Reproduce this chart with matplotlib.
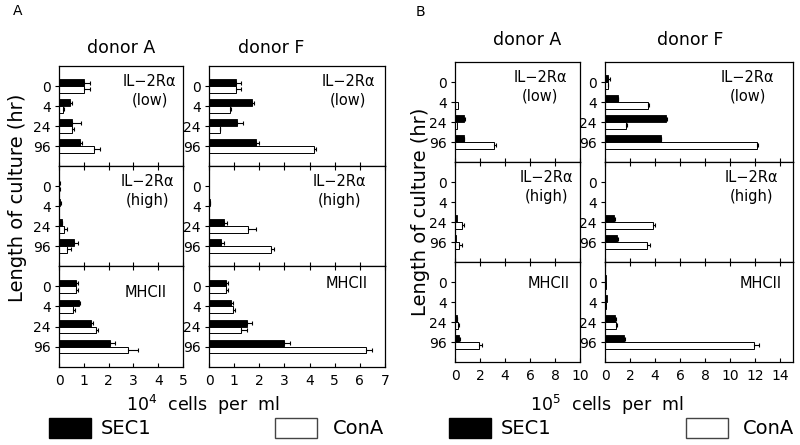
import numpy as np
import matplotlib
matplotlib.use("Agg")
import matplotlib.pyplot as plt
from matplotlib.patches import Rectangle

plt.rcParams['font.family'] = ['DejaVu Sans']

# ---------------- data ----------------
times = ['0', '4', '24', '96']
markers = ['IL\u22122R\u03b1\n(low)', 'IL\u22122R\u03b1\n(high)', 'MHCII']
series_names = ['SEC1', 'ConA']

# Panel A (10^4 cells per ml); rows: low, high, MHCII; columns: 0, 4, 24, 96 h
A_donorA_sec1 = [[1.00, 0.43, 0.54, 0.86], [0.02, 0.05, 0.11, 0.60], [0.70, 0.79, 1.30, 2.07]]
A_donorA_sec1_err = [[0.26, 0.11, 0.33, 0.07], [0.04, 0.02, 0.03, 0.18], [0.08, 0.04, 0.08, 0.17]]
A_donorA_cona = [[1.00, 0.16, 0.52, 1.41], [0.02, 0.01, 0.20, 0.34], [0.70, 0.56, 1.50, 2.78]]
A_donorA_cona_err = [[0.26, 0.03, 0.08, 0.23], [0.03, 0.00, 0.11, 0.16], [0.08, 0.08, 0.09, 0.40]]

A_donorF_sec1 = [[1.06, 1.72, 1.11, 1.87], [0.00, 0.02, 0.61, 0.46], [0.66, 0.89, 1.50, 2.98]]
A_donorF_sec1_err = [[0.23, 0.07, 0.26, 0.13], [0.00, 0.01, 0.11, 0.14], [0.08, 0.08, 0.22, 0.24]]
A_donorF_cona = [[1.06, 0.85, 0.42, 4.16], [0.00, 0.01, 1.57, 2.45], [0.66, 0.94, 1.29, 6.23]]
A_donorF_cona_err = [[0.23, 0.04, 0.03, 0.11], [0.00, 0.00, 0.31, 0.13], [0.08, 0.11, 0.24, 0.27]]

# Panel B (10^5 cells per ml)
B_donorA_sec1 = [[0.00, 0.00, 0.75, 0.72], [0.00, 0.00, 0.13, 0.08], [0.00, 0.03, 0.13, 0.32]]
B_donorA_sec1_err = [[0.00, 0.00, 0.03, 0.03], [0.00, 0.00, 0.00, 0.00], [0.00, 0.00, 0.03, 0.05]]
B_donorA_cona = [[0.02, 0.27, 0.19, 3.10], [0.00, 0.00, 0.59, 0.35], [0.00, 0.00, 0.21, 1.95]]
B_donorA_cona_err = [[0.00, 0.00, 0.00, 0.15], [0.00, 0.00, 0.11, 0.18], [0.00, 0.00, 0.10, 0.21]]

B_donorF_sec1 = [[0.27, 1.00, 4.83, 4.43], [0.00, 0.00, 0.69, 0.98], [0.05, 0.19, 0.80, 1.50]]
B_donorF_sec1_err = [[0.10, 0.05, 0.10, 0.05], [0.00, 0.00, 0.11, 0.05], [0.00, 0.00, 0.07, 0.12]]
B_donorF_cona = [[0.20, 3.45, 1.64, 12.10], [0.00, 0.00, 3.82, 3.32], [0.05, 0.10, 0.87, 11.90]]
B_donorF_cona_err = [[0.05, 0.07, 0.08, 0.12], [0.00, 0.00, 0.16, 0.31], [0.00, 0.00, 0.08, 0.40]]

# ---------------- layout ----------------
W, H = 800, 445
fig = plt.figure(figsize=(W / 100, H / 100), dpi=100)


def rect(x0, x1, y0, y1):
    return [x0 / W, 1 - y1 / H, (x1 - x0) / W, (y1 - y0) / H]


panels = [
    dict(data=(A_donorA_sec1, A_donorA_sec1_err, A_donorA_cona, A_donorA_cona_err),
         x=(59, 183), rows=(66, 166, 266, 367), xmax=5, ticks=np.arange(0, 6, 1),
         ann=[(0.73, 0.75), (0.71, 0.75), (0.70, 0.74)]),
    dict(data=(A_donorF_sec1, A_donorF_sec1_err, A_donorF_cona, A_donorF_cona_err),
         x=(209, 385), rows=(66, 166, 266, 367), xmax=7, ticks=np.arange(0, 8, 1),
         ann=[(0.79, 0.75), (0.74, 0.75), (0.78, 0.83)]),
    dict(data=(B_donorA_sec1, B_donorA_sec1_err, B_donorA_cona, B_donorA_cona_err),
         x=(455, 580), rows=(62, 162, 262, 362), xmax=10, ticks=np.arange(0, 11, 2),
         ann=[(0.68, 0.75), (0.73, 0.75), (0.75, 0.79)]),
    dict(data=(B_donorF_sec1, B_donorF_sec1_err, B_donorF_cona, B_donorF_cona_err),
         x=(605, 793), rows=(62, 162, 262, 362), xmax=15, ticks=np.arange(0, 15, 2),
         ann=[(0.76, 0.75), (0.78, 0.75), (0.83, 0.79)]),
]

h = 0.33
ypos = np.arange(1, len(times) + 1)

for p in panels:
    sec1, sec1_err, cona, cona_err = p['data']
    for r in range(3):
        ax = fig.add_axes(rect(p['x'][0], p['x'][1], p['rows'][r], p['rows'][r + 1]))
        s = np.array(sec1[r]); se = np.array(sec1_err[r])
        c = np.array(cona[r]); ce = np.array(cona_err[r])
        ax.barh(ypos - h / 2, s, height=h, color='black', edgecolor='black', linewidth=0.6, zorder=2)
        ax.barh(ypos + h / 2, c, height=h, color='white', edgecolor='black', linewidth=0.7, zorder=2)
        for yy, v, e in zip(ypos - h / 2, s, se):
            if e > 0:
                ax.errorbar(v, yy, xerr=[[0], [e]], fmt='none', ecolor='black',
                            elinewidth=0.8, capsize=1.6, capthick=0.8, zorder=3)
        for yy, v, e in zip(ypos + h / 2, c, ce):
            if e > 0:
                ax.errorbar(v, yy, xerr=[[0], [e]], fmt='none', ecolor='black',
                            elinewidth=0.8, capsize=1.6, capthick=0.8, zorder=3)
        ax.set_xlim(0, p['xmax'])
        ax.set_ylim(5, 0)
        ax.set_yticks(ypos)
        ax.set_yticklabels(times, fontsize=10)
        ax.tick_params(axis='y', direction='out', length=3, width=0.8, pad=3)
        ax.set_xticks(p['ticks'])
        if r == 2:
            ax.tick_params(axis='x', direction='in', length=3, width=0.8, top=True, pad=5, labelsize=10)
            ax.set_xticklabels([str(t) for t in p['ticks']])
        else:
            ax.tick_params(axis='x', direction='in', length=3, width=0.8,
                           top=(r == 1), labelbottom=False)
        for sp in ax.spines.values():
            sp.set_linewidth(0.9)
        ax.text(p['ann'][r][0], p['ann'][r][1], markers[r], transform=ax.transAxes,
                ha='center', va='center', multialignment='center', fontsize=10.5,
                linespacing=1.3)


def ftext(x, y, s, **kw):
    fig.text(x / W, 1 - y / H, s, **kw)


# panel letters and donor titles
ftext(18, 11, 'A', fontsize=10, ha='center', va='center')
ftext(420, 12, 'B', fontsize=10, ha='center', va='center')
ftext(121, 48, 'donor A', fontsize=12.5, ha='center', va='center')
ftext(271, 48, 'donor F', fontsize=12.5, ha='center', va='center')
ftext(527, 40, 'donor A', fontsize=12.5, ha='center', va='center')
ftext(690, 40, 'donor F', fontsize=12.5, ha='center', va='center')

# y labels
ftext(18, 198, 'Length of culture (hr)', fontsize=14, rotation=90, ha='center', va='center')
ftext(420, 212, 'Length of culture (hr)', fontsize=14, rotation=90, ha='center', va='center')

# x labels
ftext(203, 405, r'10$^{4}$  cells  per  ml', fontsize=12.5, ha='center', va='center')
ftext(607, 405, r'10$^{5}$  cells  per  ml', fontsize=12.5, ha='center', va='center')

# legends
for bx, tx, cx, ctx in [(49, 101, 275, 333), (449, 501, 686, 743)]:
    fig.patches.append(Rectangle((bx / W, 1 - 438 / H), 42 / W, 20 / H, transform=fig.transFigure,
                                 facecolor='black', edgecolor='black', linewidth=1))
    fig.patches.append(Rectangle((cx / W, 1 - 438 / H), 42 / W, 20 / H, transform=fig.transFigure,
                                 facecolor='white', edgecolor='#444444', linewidth=1))
    ftext(tx, 428, series_names[0], fontsize=14, ha='left', va='center')
    ftext(ctx, 428, series_names[1], fontsize=14, ha='left', va='center')

fig.savefig('out.png', dpi=100)
